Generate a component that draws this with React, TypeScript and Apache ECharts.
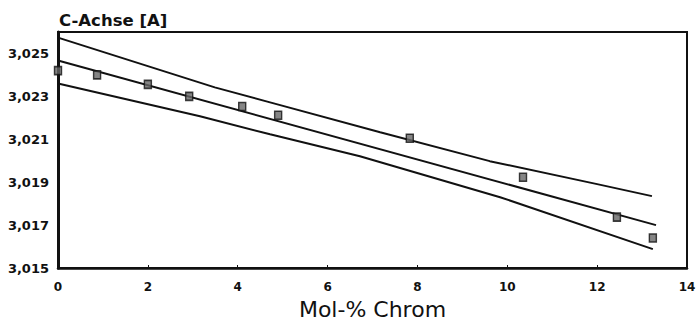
import React, { useEffect, useRef } from "react";
import * as echarts from "echarts";

const molPercent = [0, 0.87, 2.0, 2.92, 4.1, 4.9, 7.83, 10.35, 12.44, 13.24];
const cAxis = [3.0242, 3.024, 3.02356, 3.023, 3.02253, 3.02212, 3.02105, 3.01923, 3.01737, 3.0164];

const fitX = [0, 13.31];
const fitY = [3.02467, 3.017];

const upperX = [0, 3.49, 4.72, 7.17, 9.61, 12.0, 13.22];
const upperY = [3.02574, 3.02342, 3.02272, 3.02133, 3.01998, 3.01891, 3.01835];

const lowerX = [0, 3.16, 4.72, 6.72, 9.84, 13.24];
const lowerY = [3.0236, 3.02207, 3.02123, 3.02021, 3.0183, 3.01588];

const xTicks = [0, 2, 4, 6, 8, 10, 12, 14];
const yTicks = [3.015, 3.017, 3.019, 3.021, 3.023, 3.025];

const zip = (xs: number[], ys: number[]) => xs.map((x, i) => [x, ys[i]]);

export default function App() {
  const ref = useRef<HTMLDivElement>(null);
  useEffect(() => {
    if (!ref.current) return;
    const chart = echarts.init(ref.current, null, { renderer: "svg" });
    const lineStyle = { color: "#111", width: 2 };
    chart.setOption({
      animation: false,
      backgroundColor: "#fff",
      title: {
        text: "C-Achse [A]",
        left: 54,
        top: 7,
        textStyle: { fontFamily: "DejaVu Sans", fontWeight: "bold", fontSize: 16.5, color: "#111" },
      },
      grid: {
        left: 58,
        right: 12,
        top: 32,
        bottom: 56,
        show: true,
        borderColor: "#111",
        borderWidth: 2,
        backgroundColor: "transparent",
      },
      xAxis: {
        type: "value",
        min: xTicks[0],
        max: xTicks[xTicks.length - 1],
        interval: 2,
        name: "Mol-% Chrom",
        nameLocation: "middle",
        nameGap: 30,
        nameTextStyle: { fontFamily: "DejaVu Sans", fontSize: 22, color: "#111" },
        axisLine: { show: true, lineStyle: { color: "#111", width: 2.5 } },
        axisTick: { show: true, inside: true, length: 3, lineStyle: { color: "#111", width: 1 } },
        splitLine: { show: false },
        axisLabel: {
          margin: 13,
          fontFamily: "DejaVu Sans",
          fontWeight: "bold",
          fontSize: 12,
          color: "#111",
        },
      },
      yAxis: {
        type: "value",
        min: yTicks[0],
        max: 3.026,
        interval: 0.002,
        axisLine: { show: true, lineStyle: { color: "#111", width: 3 } },
        axisTick: { show: true, inside: true, length: 2, lineStyle: { color: "#111", width: 1 } },
        splitLine: { show: false },
        axisLabel: {
          showMaxLabel: false,
          margin: 9,
          fontFamily: "DejaVu Sans",
          fontWeight: "bold",
          fontSize: 13,
          color: "#111",
          formatter: (v: number) => (yTicks.some((t) => Math.abs(t - v) < 1e-7) ? v.toFixed(3).replace(".", ",") : ""),
        },
      },
      series: [
        { type: "line", data: zip(upperX, upperY), symbol: "none", lineStyle, z: 2 },
        { type: "line", data: zip(fitX, fitY), symbol: "none", lineStyle, z: 2 },
        { type: "line", data: zip(lowerX, lowerY), symbol: "none", lineStyle, z: 2 },
        {
          type: "scatter",
          data: zip(molPercent, cAxis),
          symbol: "rect",
          symbolSize: [7, 8],
          itemStyle: { color: "#666", borderColor: "#111", borderWidth: 1.5 },
          z: 5,
        },
      ],
    });
    return () => chart.dispose();
  }, []);
  return <div ref={ref} style={{ width: 699, height: 325, position: "absolute", left: 0, top: 0 }} />;
}
